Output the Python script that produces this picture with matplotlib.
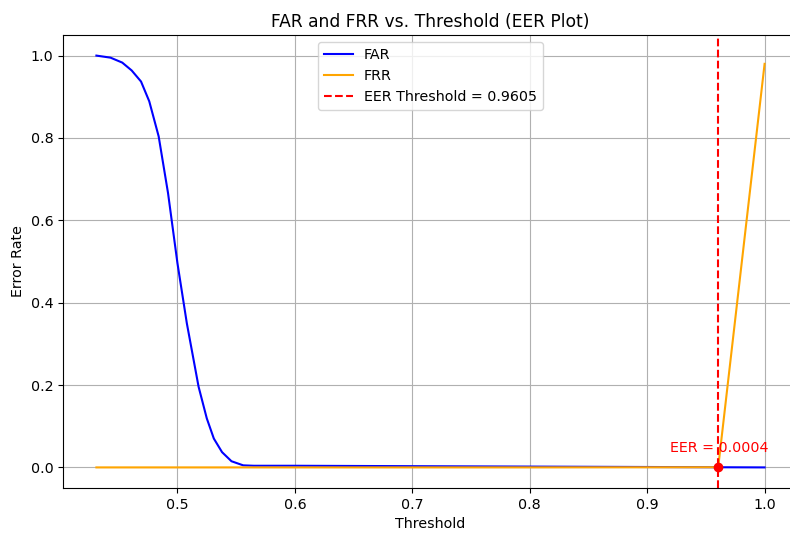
import matplotlib
matplotlib.use("Agg")
import matplotlib.pyplot as plt

plt.rcParams['font.size'] = 10.25

# FAR curve
far_thr = [0.431, 0.443, 0.453, 0.461, 0.469, 0.476, 0.484, 0.492, 0.500,
           0.508, 0.518, 0.525, 0.531, 0.538, 0.546, 0.556, 0.565, 0.60,
           0.70, 0.80, 0.90, 0.9605, 1.0]
far = [1.0, 0.995, 0.983, 0.964, 0.937, 0.889, 0.804, 0.666, 0.496,
       0.350, 0.196, 0.119, 0.070, 0.037, 0.015, 0.005, 0.004, 0.004,
       0.003, 0.002, 0.001, 0.0004, 0.0]

# FRR curve
frr_thr = [0.431, 0.60, 0.80, 0.9605, 1.0]
frr = [0.0, 0.0, 0.0, 0.0004, 0.98]

eer_thr = 0.9605
eer = 0.0004

fig = plt.figure(figsize=(7.9, 5.37), dpi=100)
# original picture is cut off on the right, so the axes run past the edge
ax = fig.add_axes([63 / 790, 1 - 488 / 537, 735 / 790, 453 / 537])

ax.plot(far_thr, far, label="FAR", color="blue")
ax.plot(frr_thr, frr, label="FRR", color="orange")
ax.axvline(eer_thr, color="red", linestyle="--", label="EER Threshold = %.4f" % eer_thr)
ax.scatter([eer_thr], [eer], color="red", zorder=5)
ax.text(eer_thr - 0.041, eer + 0.036, "EER = %.4f" % eer, color="red")

ax.set_title("FAR and FRR vs. Threshold (EER Plot)", fontsize=12.3)
ax.set_xlabel("Threshold")
ax.set_ylabel("Error Rate")
ax.legend(loc="upper center")
ax.grid(True)

fig.savefig("out.png")
